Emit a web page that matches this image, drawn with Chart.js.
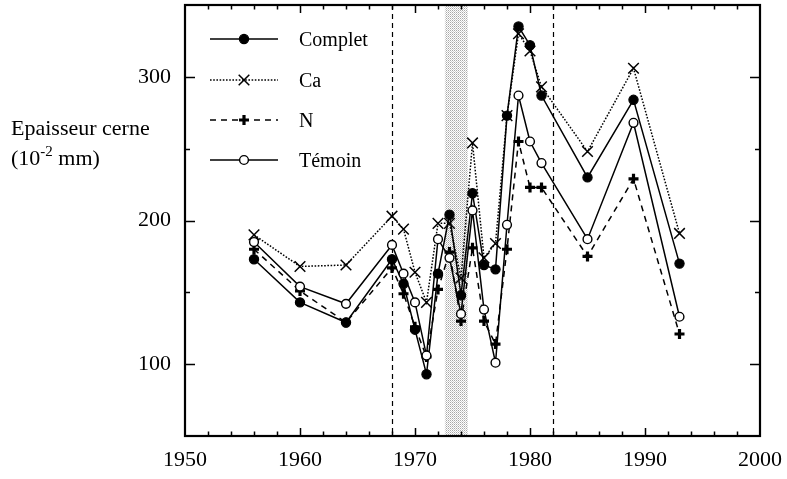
<!DOCTYPE html>
<html>
<head>
<meta charset="utf-8">
<script src="https://cdn.jsdelivr.net/npm/chart.js@4.4.1/dist/chart.umd.min.js"></script>
<style>
  html, body { margin: 0; padding: 0; background: #fff; }
  #wrap { width: 787px; height: 479px; }
</style>
</head>
<body>
<div id="wrap"><canvas id="c" width="787" height="479"></canvas></div>
<script>
// Ring width (10^-2 mm) per treatment and year
const years   = [1956, 1960, 1964, 1968, 1969, 1970, 1971, 1972, 1973, 1974, 1975, 1976, 1977, 1978, 1979, 1980, 1981, 1985, 1989, 1993];
const complet = [173, 143, 129, 173, 156, 124,  93, 163, 204, 148, 219, 169, 166, 273, 335, 322, 287, 230, 284, 170];
const calcium = [190, 168, 169, 203, 194, 164, 143, 198, 198, 160, 254, 174, 184, 273, 330, 318, 293, 248, 306, 191];
const azote   = [180, 151, 129, 167, 149, 126, 105, 152, 178, 130, 181, 130, 114, 180, 255, 223, 223, 175, 229, 121];
const temoin  = [185, 154, 142, 183, 163, 143, 106, 187, 174, 135, 207, 138, 101, 197, 287, 255, 240, 187, 268, 133];

const seriesNames = ['Complet', 'Ca', 'N', 'Témoin'];
const yTickLabels = [100, 200, 300];
const xTickLabels = [1950, 1960, 1970, 1980, 1990, 2000];

// Reference period markers and the shaded interval
const markerYears = [1968, 1982];
const shadedSpan  = [1972.6, 1974.6];

const SERIF = '"Liberation Serif", "Times New Roman", Times, serif';

// Plot frame inside the 787x479 canvas
const FRAME = { left: 185, top: 5, right: 760, bottom: 436 };

function toPoints(vals) {
  return years.map((yr, i) => ({ x: yr, y: vals[i] }));
}

// Stippled grey fill for the shaded interval
function makeStipple() {
  const p = document.createElement('canvas');
  p.width = 2; p.height = 2;
  const g = p.getContext('2d');
  g.fillStyle = '#ffffff'; g.fillRect(0, 0, 2, 2);
  g.fillStyle = '#a8a8a8';
  g.fillRect(0, 0, 1, 1);
  g.fillStyle = '#d0d0d0';
  g.fillRect(1, 1, 1, 1);
  return p;
}

const styles = [
  { dash: [],         pointStyle: 'circle',   radius: 4.6, bg: '#000', bw: 1.2, lw: 1.5 },
  { dash: [1.6, 1.6], pointStyle: 'crossRot', radius: 7.5, bg: '#000', bw: 1.5, lw: 1.5 },
  { dash: [6, 5],     pointStyle: 'cross',    radius: 5,   bg: '#000', bw: 3.2, lw: 1.5 },
  { dash: [],         pointStyle: 'circle',   radius: 4.4, bg: '#fff', bw: 1.4, lw: 1.5 }
];
const seriesData = [complet, calcium, azote, temoin];

const datasets = seriesData.map((vals, i) => ({
  label: seriesNames[i],
  data: toPoints(vals),
  showLine: true,
  borderColor: '#000',
  borderWidth: styles[i].lw,
  borderDash: styles[i].dash,
  pointStyle: styles[i].pointStyle,
  pointRadius: styles[i].radius,
  pointHoverRadius: styles[i].radius,
  pointBackgroundColor: styles[i].bg,
  pointBorderColor: '#000',
  pointBorderWidth: styles[i].bw,
  fill: false,
  tension: 0,
  order: [1, 2, 3, 0][i]
}));

function drawMarker(ctx, st, x, y) {
  ctx.save();
  ctx.setLineDash([]);
  ctx.strokeStyle = '#000';
  ctx.lineWidth = st.bw;
  ctx.fillStyle = st.bg;
  const r = st.radius;
  ctx.beginPath();
  if (st.pointStyle === 'circle') {
    ctx.arc(x, y, r, 0, Math.PI * 2);
    ctx.fill(); ctx.stroke();
  } else if (st.pointStyle === 'crossRot') {
    const o = Math.cos(Math.PI / 4) * r;
    ctx.moveTo(x - o, y - o); ctx.lineTo(x + o, y + o);
    ctx.moveTo(x - o, y + o); ctx.lineTo(x + o, y - o);
    ctx.stroke();
  } else {
    ctx.moveTo(x - r, y); ctx.lineTo(x + r, y);
    ctx.moveTo(x, y - r); ctx.lineTo(x, y + r);
    ctx.stroke();
  }
  ctx.restore();
}

// Pin the chart area to the fixed frame so both axes line up exactly
const fixedArea = {
  id: 'fixedArea',
  afterLayout(chart) {
    const A = FRAME;
    chart.chartArea = { left: A.left, top: A.top, right: A.right, bottom: A.bottom,
                        width: A.right - A.left, height: A.bottom - A.top };
    const { x, y } = chart.scales;
    x.left = A.left; x.right = A.right; x.width = A.right - A.left;
    x.top = A.bottom; x.bottom = chart.height; x.height = chart.height - A.bottom;
    y.left = 0; y.right = A.left; y.width = A.left;
    y.top = A.top; y.bottom = A.bottom; y.height = A.bottom - A.top;
    x.configure();
    y.configure();
  }
};

const backdrop = {
  id: 'backdrop',
  beforeDatasetsDraw(chart) {
    const { ctx, chartArea: a, scales: { x } } = chart;
    ctx.save();
    ctx.fillStyle = ctx.createPattern(makeStipple(), 'repeat');
    const x0 = x.getPixelForValue(shadedSpan[0]);
    const x1 = x.getPixelForValue(shadedSpan[1]);
    ctx.fillRect(x0, a.top, x1 - x0, a.bottom - a.top);
    ctx.strokeStyle = '#000';
    ctx.lineWidth = 1.2;
    ctx.setLineDash([5, 4]);
    markerYears.forEach(yr => {
      const px = Math.round(x.getPixelForValue(yr)) + 0.5;
      ctx.beginPath();
      ctx.moveTo(px, a.top);
      ctx.lineTo(px, a.bottom);
      ctx.stroke();
    });
    ctx.restore();
  }
};

const frame = {
  id: 'frame',
  afterDraw(chart) {
    const { ctx, chartArea: a, scales: { x, y } } = chart;
    ctx.save();
    ctx.strokeStyle = '#000';
    ctx.setLineDash([]);
    ctx.lineWidth = 1.5;
    ctx.beginPath();
    for (let v = x.min + 2; v < x.max; v += 2) {
      const px = Math.round(x.getPixelForValue(v)) + 0.5;
      const L = v % 10 === 0 ? 8 : 4.5;
      ctx.moveTo(px, a.bottom); ctx.lineTo(px, a.bottom - L);
      ctx.moveTo(px, a.top);    ctx.lineTo(px, a.top + L);
    }
    for (let v = y.min + 50; v < y.max; v += 50) {
      const py = Math.round(y.getPixelForValue(v)) + 0.5;
      const L = v % 100 === 0 ? 10 : 5;
      ctx.moveTo(a.left, py);  ctx.lineTo(a.left + L, py);
      ctx.moveTo(a.right, py); ctx.lineTo(a.right - L, py);
    }
    ctx.stroke();
    ctx.lineWidth = 2.2;
    ctx.strokeRect(a.left, a.top, a.right - a.left, a.bottom - a.top);

    // Legend, upper left inside the frame
    const rows = [39, 80, 120, 160];
    ctx.font = '20px ' + SERIF;
    ctx.fillStyle = '#000';
    ctx.textAlign = 'left';
    ctx.textBaseline = 'alphabetic';
    rows.forEach((ry, i) => {
      const st = styles[i];
      ctx.save();
      ctx.lineWidth = st.lw;
      ctx.setLineDash(st.dash);
      ctx.beginPath();
      ctx.moveTo(210, ry); ctx.lineTo(278, ry);
      ctx.stroke();
      ctx.restore();
      drawMarker(ctx, st, 244, ry);
      ctx.fillText(seriesNames[i], 299, ry + 7);
    });

    // Y axis caption
    ctx.font = '22px ' + SERIF;
    ctx.fillText('Epaisseur cerne', 11, 135);
    let cx = 11;
    ctx.fillText('(10', cx, 165);
    cx += ctx.measureText('(10').width;
    ctx.font = '15px ' + SERIF;
    ctx.fillText('-2', cx, 156);
    cx += ctx.measureText('-2').width;
    ctx.font = '22px ' + SERIF;
    ctx.fillText(' mm)', cx, 165);
    ctx.restore();
  }
};

new Chart(document.getElementById('c'), {
  type: 'scatter',
  data: { datasets },
  options: {
    responsive: false,
    animation: false,
    events: [],
    layout: { padding: { left: 0, right: 27, top: 5, bottom: 0 } },
    plugins: { legend: { display: false }, tooltip: { enabled: false } },
    scales: {
      x: {
        type: 'linear', min: 1950, max: 2000,
        grid: { display: false, drawTicks: false },
        border: { display: false },
        ticks: {
          stepSize: 10, padding: 11, color: '#000',
          font: { family: SERIF, size: 22 },
          maxRotation: 0,
          callback: v => xTickLabels.includes(v) ? String(v) : ''
        }
      },
      y: {
        type: 'linear', min: 50, max: 350,
        grid: { display: false, drawTicks: false },
        border: { display: false },
        ticks: {
          stepSize: 50, padding: 14, color: '#000',
          font: { family: SERIF, size: 22 },
          callback: v => yTickLabels.includes(v) ? String(v) : ''
        }
      }
    }
  },
  plugins: [fixedArea, backdrop, frame]
});
</script>
</body>
</html>
